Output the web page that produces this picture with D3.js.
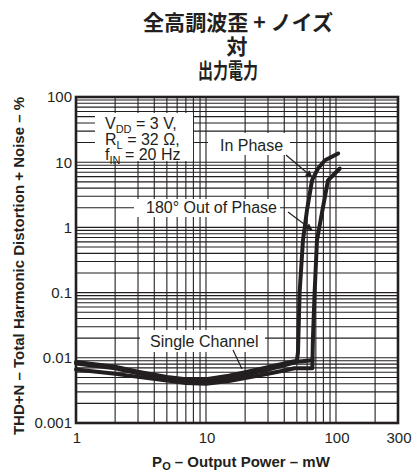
<!DOCTYPE html>
<html><head><meta charset="utf-8">
<script src="https://cdn.jsdelivr.net/npm/d3@7"></script>
<style>
html,body{margin:0;padding:0;background:#fff;}
svg{display:block;}
text{font-family:"Liberation Sans",Arial,Helvetica,sans-serif;fill:#231f20;}
</style></head><body>
<svg id="c" width="419" height="472"></svg>
<script>
// ---- data ----
const titleLines = ["全高調波歪 + ノイズ", "対", "出力電力"];
const xTicks = [1, 10, 100, 300];
const xTickLabels = ["1", "10", "100", "300"];
const yTicks = [100, 10, 1, 0.1, 0.01, 0.001];
const yTickLabels = ["100", "10", "1", "0.1", "0.01", "0.001"];

// In Phase: [mW, %]
const inPhase = [[1,0.0086],[2,0.0073],[3,0.0061],[5,0.0051],[7,0.0047],[10,0.0047],[15,0.0053],[20,0.006],[30,0.0072],[40,0.0082],[50,0.009],[51,0.012],[52.5,0.1],[55.7,0.63],[59.8,1.82],[65.4,5.26],[72.7,8.0],[82.3,10.7],[104,13.6]];
// 180° Out of Phase
const outPhase = [[1,0.0066],[2,0.0057],[3,0.0051],[5,0.0045],[7,0.0041],[10,0.004],[15,0.0044],[20,0.0049],[30,0.0057],[40,0.0064],[48,0.0069],[65.8,0.0069],[66.5,0.02],[68.5,0.1],[71.4,0.63],[79.4,2.03],[86.8,5.26],[107,8.0]];
// Single Channel
const single = [[1,0.0082],[2,0.0069],[3,0.0058],[5,0.0048],[7,0.0044],[10,0.0043],[15,0.0048],[20,0.0055],[30,0.0066],[40,0.0077],[50,0.0087],[66,0.0092]];

const params = [["V","DD"," = 3 V,"],["R","L"," = 32 Ω,"],["f","IN"," = 20 Hz"]];

// ---- layout ----
const svg = d3.select("#c");
const L = 76, R = 398, T = 97, B = 423;
const x = d3.scaleLog().domain([1, 300]).range([L, R]);
const y = d3.scaleLog().domain([0.001, 100]).range([B, T]);
const ink = "#231f20";

// title
const tLens = [190, 21, 60];
const tCx = [238, 237, 228];
titleLines.forEach((s, i) => {
  svg.append("text").attr("x", tCx[i]).attr("y", 30 + i * 24)
    .attr("text-anchor", "middle")
    .style("font-family", '"Noto Sans CJK JP",sans-serif')
    .style("font-weight", "bold").style("font-size", "21px")
    .attr("textLength", tLens[i]).attr("lengthAdjust", "spacingAndGlyphs")
    .text(s);
});

// grid
const g = svg.append("g");
const xGrid = [];
[1, 10].forEach(d => { for (let k = 1; k <= 9; k++) xGrid.push(d * k); });
xGrid.push(100, 200, 300);
const yGrid = [];
[0.001, 0.01, 0.1, 1, 10].forEach(d => { for (let k = 1; k <= 9; k++) yGrid.push(d * k); });
yGrid.push(100);
g.selectAll(".vg").data(xGrid).join("line")
  .attr("x1", d => x(d)).attr("x2", d => x(d)).attr("y1", T).attr("y2", B)
  .attr("stroke", ink).attr("stroke-width", 1.1);
g.selectAll(".hg").data(yGrid).join("line")
  .attr("x1", L).attr("x2", R).attr("y1", d => y(d)).attr("y2", d => y(d))
  .attr("stroke", ink).attr("stroke-width", 1.1);

// label boxes (white, over grid)
const boxes = [[95, 113, 98, 48], [208, 133, 82, 22], [134, 199, 146, 18], [140, 330, 125, 22]];
boxes.forEach(b => svg.append("rect").attr("x", b[0]).attr("y", b[1]).attr("width", b[2]).attr("height", b[3]).attr("fill", "#fff"));

// frame
svg.append("rect").attr("x", L).attr("y", T).attr("width", R - L).attr("height", B - T)
  .attr("fill", "none").attr("stroke", ink).attr("stroke-width", 2.6);

// curves
const lineV = d3.line().x(d => x(d[0])).y(d => y(d[1])).curve(d3.curveLinear);
[single, outPhase, inPhase].forEach(s => {
  svg.append("path").attr("d", lineV(s)).attr("fill", "none")
    .attr("stroke", ink).attr("stroke-width", 4).attr("stroke-linejoin", "round").attr("stroke-linecap", "round");
});

// annotation texts
const fs = 16;
params.forEach((p, i) => {
  const t = svg.append("text").attr("x", 105).attr("y", 129 + i * 15.5).style("font-size", fs + "px");
  t.append("tspan").text(p[0]);
  t.append("tspan").attr("dy", 4).style("font-size", "11px").text(p[1]);
  t.append("tspan").attr("dy", -4).text(p[2]);
});
svg.append("text").attr("x", 220).attr("y", 151).style("font-size", fs + "px").text("In Phase");
svg.append("text").attr("x", 146).attr("y", 213).style("font-size", fs + "px").text("180° Out of Phase");
svg.append("text").attr("x", 150).attr("y", 347).style("font-size", fs + "px").text("Single Channel");

// leaders
svg.append("defs").append("marker").attr("id", "ah").attr("viewBox", "0 0 10 10")
  .attr("refX", 9).attr("refY", 5).attr("markerWidth", 11).attr("markerHeight", 7)
  .attr("markerUnits", "userSpaceOnUse").attr("orient", "auto")
  .append("path").attr("d", "M0,0L10,5L0,10Z").attr("fill", ink);
const leaders = [[286, 155, 312, 177, true], [288, 212, 312, 230, true], [233, 350, 242, 369, false]];
leaders.forEach(l => {
  const ln = svg.append("line").attr("x1", l[0]).attr("y1", l[1]).attr("x2", l[2]).attr("y2", l[3])
    .attr("stroke", ink).attr("stroke-width", 1.2);
  if (l[4]) ln.attr("marker-end", "url(#ah)");
});

// tick labels
svg.selectAll(".yl").data(yTicks).join("text")
  .attr("x", 72).attr("y", d => y(d)).attr("dy", "0.36em").attr("text-anchor", "end")
  .style("font-size", "15px").text((d, i) => yTickLabels[i]);
svg.selectAll(".xl").data(xTicks).join("text")
  .attr("x", d => x(d) + 1).attr("y", 443).attr("text-anchor", "middle")
  .style("font-size", "15px").text((d, i) => xTickLabels[i]);

// axis titles
svg.append("text").attr("transform", "translate(24,266) rotate(-90)")
  .attr("text-anchor", "middle").style("font-size", "15px").style("font-weight", "bold")
  .text("THD+N – Total Harmonic Distortion + Noise – %");
const xt = svg.append("text").attr("x", 241).attr("y", 467).attr("text-anchor", "middle")
  .style("font-size", "15px").style("font-weight", "bold");
xt.append("tspan").text("P");
xt.append("tspan").attr("dy", 3).style("font-size", "11px").text("O");
xt.append("tspan").attr("dy", -3).text(" – Output Power – mW");
</script></body></html>
